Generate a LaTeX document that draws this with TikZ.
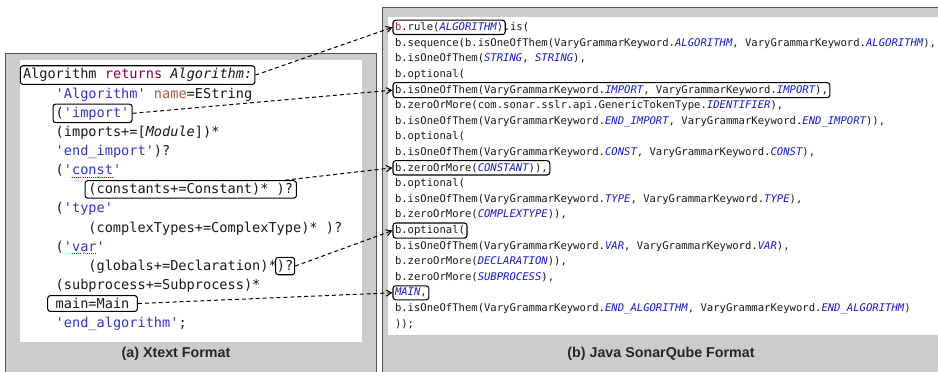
\documentclass[tikz,border=0pt]{standalone}
\usepackage{xcolor}
\usepackage{fontspec}
\usepackage{tikz}
\usetikzlibrary{arrows}
\setmainfont{Liberation Sans}
\newfontfamily\xtmono{DejaVu Sans Mono}
\definecolor{kwpurple}{HTML}{7F0055}
\definecolor{namebrown}{HTML}{B05A38}
\definecolor{strblue}{HTML}{3333CC}
\definecolor{jblue}{HTML}{1A1ACC}
\definecolor{bred}{HTML}{A0302A}
\definecolor{codeink}{HTML}{1A1A1A}
\definecolor{framegray}{HTML}{CCCCCC}
\definecolor{frameline}{HTML}{555555}
\newcommand{\xstr}[1]{\textcolor{strblue}{#1}}
\newcommand{\jkw}[1]{\textcolor{jblue}{\itshape #1}}

\begin{document}
\begin{tikzpicture}
                \tikzset{x={(0.75pt, 0pt)}, y={(0pt, -0.75pt)}}
                \tikzset{xtcode/.style={anchor=text, inner sep=0pt, text=codeink, font=\xtmono\fontsize{10.2pt}{12pt}\selectfont},
                         jcode/.style={anchor=text, inner sep=0pt, text=codeink, font=\xtmono\fontsize{7.93pt}{9pt}\selectfont},
                         xtbox/.style={xtcode, draw=black, line width=0.8pt, rounded corners=2pt, inner xsep=2pt, inner ysep=2pt},
                         jbox/.style={jcode, draw=black, line width=0.8pt, rounded corners=2pt, inner xsep=1.5pt, inner ysep=1.8pt},
                         link/.style={-angle 60, line width=0.75pt, dash pattern=on 3pt off 2.2pt},
                         spell/.style={red!80!black, line width=0.9pt, dash pattern=on 0.8pt off 0.8pt},
                         caption/.style={font=\bfseries\fontsize{10.7pt}{12pt}\selectfont, text=black!85}}
                \useasboundingbox (0, 0) rectangle (938, 371);
                \clip (0, 0) rectangle (938, 371);
                % the two panels
                \draw[draw=frameline, fill=framegray] (  5, 53) rectangle (376, 400);
                \fill[white] ( 20, 60) rectangle (362, 342);
                \draw[draw=frameline, fill=framegray] (382,  7) rectangle (960, 400);
                \fill[white] (388, 17) rectangle (960, 335);
                % (a) Xtext
                \node[xtbox]  (xalg)   at (23.0, 78.8)  {Algorithm \textcolor{kwpurple}{returns} \textit{Algorithm:}};
                \node[xtcode] (l2)     at (55.7, 98.0)  {\xstr{'Algorithm'} \textcolor{namebrown}{name}=EString};
                \node[xtbox]  (ximp)   at (55.7, 117.1) {(\xstr{'import'}};
                \node[xtcode] (l4)     at (55.7, 136.3) {(imports+=[\textit{Module}])*};
                \node[xtcode] (l5)     at (55.7, 155.4) {\xstr{'end\_import'})?};
                \node[xtcode] (l6)     at (55.7, 174.6) {(\xstr{'const'}};
                \node[xtbox, inner xsep=2.5pt] (xconst) at (88.4, 193.7) {(constants+=Constant)* )?\ };
                \node[xtcode] (l8)     at (55.7, 212.9) {(\xstr{'type'}};
                \node[xtcode] (l9)     at (88.4, 232.0) {(complexTypes+=ComplexType)* )?};
                \node[xtcode] (l10)    at (55.7, 251.2) {(\xstr{'var'}};
                \node[xtcode] (l11)    at (88.4, 270.3) {(globals+=Declaration)*\ };
                \node[xtbox, inner xsep=1pt] (xvar) at (l11.base east) {)?};
                \node[xtcode] (l12)    at (55.7, 289.5) {(subprocess+=Subprocess)*};
                \node[xtbox, inner xsep=6pt] (xmain) at (55.7, 308.6) {main=Main};
                \node[xtcode] (l14)    at (55.7, 327.8) {\xstr{'end\_algorithm'};};
                \draw[spell] ([shift={(16.4, 2.5)}]l6.base west) -- ++(41, 0);
                \draw[spell] ([shift={(16.4, 2.5)}]l10.base west) -- ++(24.5, 0);
                \node[caption] (capa) at (176, 354) {(a) Xtext Format};
                % (b) Java SonarQube
                \node[jbox]  (jalg)   at (395, 30.7)  {\textcolor{bred}{b}.rule(\jkw{ALGORITHM})};
                \node[jcode] (j1)     at ([xshift=-1.5pt]jalg.base east) {.is(};
                \node[jcode] (j2)     at (395, 46.3)  {b.sequence(b.isOneOfThem(VaryGrammarKeyword.\jkw{ALGORITHM}, VaryGrammarKeyword.\jkw{ALGORITHM}),};
                \node[jcode] (j3)     at (395, 61.9)  {b.isOneOfThem(\jkw{STRING}, \jkw{STRING}),};
                \node[jcode] (j4)     at (395, 77.5)  {b.optional(};
                \node[jbox]  (jimp)   at (395, 93.1)  {b.isOneOfThem(VaryGrammarKeyword.\jkw{IMPORT}, VaryGrammarKeyword.\jkw{IMPORT}),};
                \node[jcode] (j6)     at (395, 108.7) {b.zeroOrMore(com.sonar.sslr.api.GenericTokenType.\jkw{IDENTIFIER}),};
                \node[jcode] (j7)     at (395, 124.3) {b.isOneOfThem(VaryGrammarKeyword.\jkw{END\_IMPORT}, VaryGrammarKeyword.\jkw{END\_IMPORT})),};
                \node[jcode] (j8)     at (395, 139.9) {b.optional(};
                \node[jcode] (j9)     at (395, 155.5) {b.isOneOfThem(VaryGrammarKeyword.\jkw{CONST}, VaryGrammarKeyword.\jkw{CONST}),};
                \node[jbox]  (jconst) at (395, 171.1) {b.zeroOrMore(\jkw{CONSTANT})),};
                \node[jcode] (j11)    at (395, 186.7) {b.optional(};
                \node[jcode] (j12)    at (395, 202.3) {b.isOneOfThem(VaryGrammarKeyword.\jkw{TYPE}, VaryGrammarKeyword.\jkw{TYPE}),};
                \node[jcode] (j13)    at (395, 217.9) {b.zeroOrMore(\jkw{COMPLEXTYPE})),};
                \node[jbox]  (jvar)   at (395, 233.5) {b.optional(};
                \node[jcode] (j15)    at (395, 249.1) {b.isOneOfThem(VaryGrammarKeyword.\jkw{VAR}, VaryGrammarKeyword.\jkw{VAR}),};
                \node[jcode] (j16)    at (395, 264.7) {b.zeroOrMore(\jkw{DECLARATION})),};
                \node[jcode] (j17)    at (395, 280.3) {b.zeroOrMore(\jkw{SUBPROCESS}),};
                \node[jbox]  (jmain)  at (395, 295.9) {\jkw{MAIN},};
                \node[jcode] (j19)    at (395, 311.5) {b.isOneOfThem(VaryGrammarKeyword.\jkw{END\_ALGORITHM}, VaryGrammarKeyword.\jkw{END\_ALGORITHM})};
                \node[jcode] (j20)    at (395, 327.1) {));};
                \node[caption] (capb) at (661, 354) {(b) Java SonarQube Format};
                % mapping links
                \draw[link] (xalg.east) -- (jalg.west);
                \draw[link] (ximp.east) -- (jimp.west);
                \draw[link] ([shift={(-12, 0)}]xconst.north east) -- (jconst.west);
                \draw[link] (xvar.east) -- (jvar.west);
                \draw[link] (xmain.east) -- (jmain.west);
            \end{tikzpicture}
\end{document}
